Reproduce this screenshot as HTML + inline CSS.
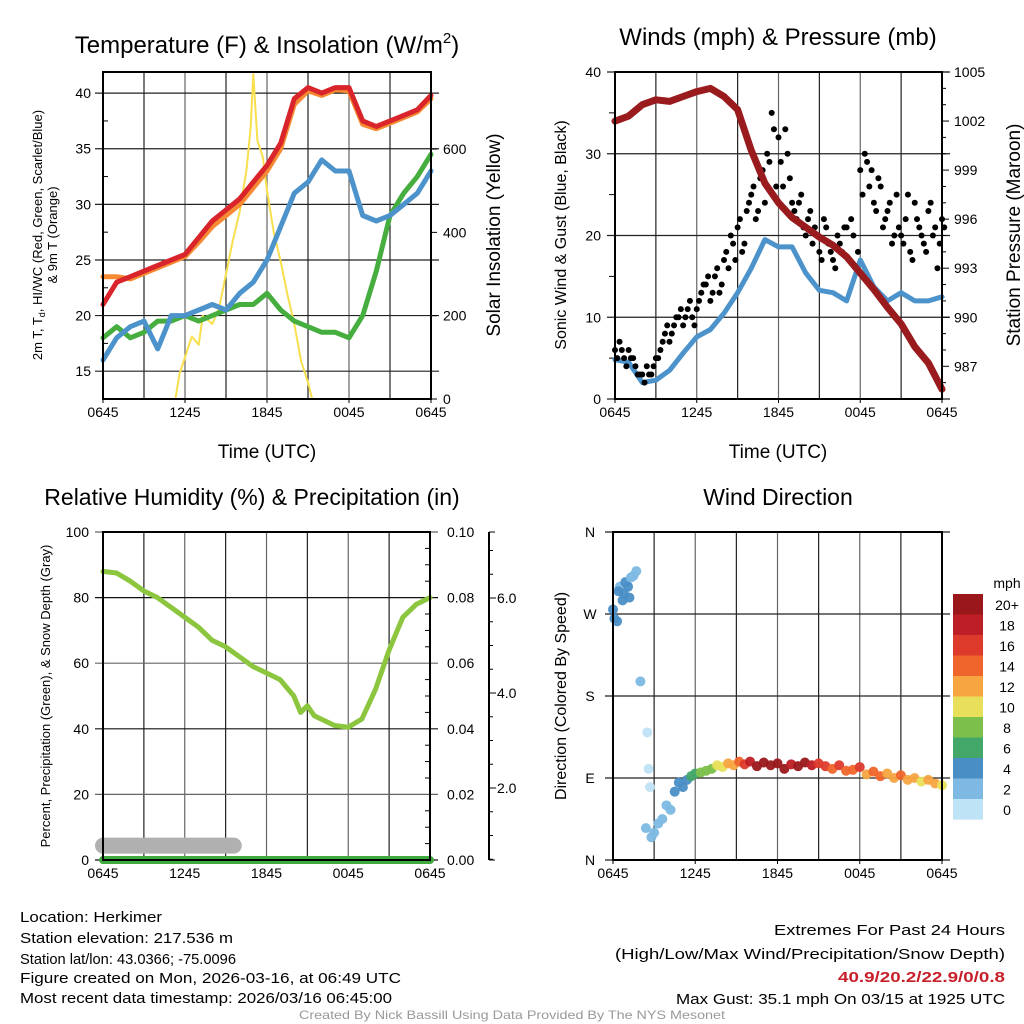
<!DOCTYPE html>
<html><head><meta charset="utf-8"><style>
html,body{margin:0;padding:0;background:#fff}
svg{display:block;font-family:"Liberation Sans",sans-serif}
</style></head><body>
<svg id="chart" width="1024" height="1024" viewBox="0 0 1024 1024" xmlns="http://www.w3.org/2000/svg">
<g id="g"></g>
<g font-size="15" fill="#000">
<text x="20" y="922" textLength="142" lengthAdjust="spacingAndGlyphs">Location: Herkimer</text>
<text x="20" y="943" textLength="213" lengthAdjust="spacingAndGlyphs">Station elevation: 217.536 m</text>
<text x="20" y="964" textLength="216" lengthAdjust="spacingAndGlyphs">Station lat/lon: 43.0366; -75.0096</text>
<text x="20" y="983" textLength="381" lengthAdjust="spacingAndGlyphs">Figure created on Mon, 2026-03-16, at 06:49 UTC</text>
<text x="20" y="1003" textLength="372" lengthAdjust="spacingAndGlyphs">Most recent data timestamp: 2026/03/16 06:45:00</text>
</g>
<g font-size="15" fill="#000" text-anchor="end">
<text x="1005" y="935" textLength="231" lengthAdjust="spacingAndGlyphs">Extremes For Past 24 Hours</text>
<text x="1005" y="959" textLength="390" lengthAdjust="spacingAndGlyphs">(High/Low/Max Wind/Precipitation/Snow Depth)</text>
<text x="1005" y="982" textLength="167" lengthAdjust="spacingAndGlyphs" fill="#c8202a" font-weight="bold">40.9/20.2/22.9/0/0.8</text>
<text x="1005" y="1004" textLength="329" lengthAdjust="spacingAndGlyphs">Max Gust: 35.1 mph On 03/15 at 1925 UTC</text>
</g>
<text x="512" y="1019" font-size="12" fill="#999" text-anchor="middle" textLength="426" lengthAdjust="spacingAndGlyphs">Created By Nick Bassill Using Data Provided By The NYS Mesonet</text>
</svg>
<script>
// ---- data (hours since 0645 UTC) ----
const hoursA = [0,1,2,3,4,5,6,7,8,9,10,11,12,13,14,15,16,17,18,19,20,21,22,23,24];
const tempRed = [21,23,23.5,24,24.5,25,25.5,27,28.5,29.5,30.5,32,33.5,35.5,39.5,40.5,40,40.5,40.5,37.5,37,37.5,38,38.5,39.8];
const tempOrange = [23.5,23.5,23.3,23.8,24.3,24.8,25.3,26.6,28,29,30,31.5,33,35,39,40.2,39.8,40.3,40.2,37.2,36.8,37.3,37.8,38.3,39.5];
const tempBlue = [16,18,19,19.5,17,20,20,20.5,21,20.5,22,23,25,28,31,32,34,33,33,29,28.5,29,30,31,33];
const tempGreen = [18,19,18,18.5,19.5,19.5,20,19.5,20,20.5,21,21,22,20.5,19.5,19,18.5,18.5,18,20,24,29,31,32.5,34.5];
const solarHours = [0,5.3,5.6,6,6.5,7,7.3,8,8.5,9,9.5,10,10.5,10.8,11,11.3,11.7,12,12.5,13,13.5,14,14.5,15,15.3,24];
const solarVals = [0,0,60,100,150,130,200,180,220,300,380,450,550,650,780,620,580,500,400,330,250,180,90,40,0,0];
const windSust = [4.8,4.5,2,2.3,3.5,5.6,7.6,8.5,10.5,13,16,19.5,18.6,18.6,15.4,13.3,13,12,17,13.7,12,13,12,12,12.5];
const pressure = [1002,1002.3,1003,1003.3,1003.2,1003.5,1003.8,1004,1003.5,1002.7,1000.2,998.2,997,996.1,995.5,994.9,994.4,993.7,992.7,991.7,990.6,989.6,988.2,987.2,985.6];
const gusts = [6,7,5,6,5, 3,3,4,3, 5,6,8,7,9,10,9,11,10, 11,13,14,12,15,13, 17,16,19,21,18,23, 25,22,27,24,29,33, 32,26,30,24,22,25, 20,23,21,18,22,19, 17,20,18,21,22,16, 28,30,26,24,27,21, 23,19,25,20,22,18, 24,21,19,23,20,16,22];
const gusts2 = [5,6,4,5,4, 3,2,3,4, 5,7,9,8,10,11,10,12,9, 12,14,15,13,16,14, 18,20,17,22,19,24, 26,23,28,30,35,26, 29,33,27,23,24,21, 22,19,20,17,21,18, 16,19,21,17,20,18, 25,29,28,23,26,22, 24,20,21,19,25,17, 22,20,18,24,21,19,21];
const rhHours = [0,1,2,3,4,5,6,7,8,9,10,11,12,13,14,14.5,15,15.5,16,17,18,19,20,21,22,23,24];
const rhVals = [88,87.5,85,82,80,77,74,71,67,65,62,59,57,55,50,45,47,44,43,41,40.5,43,52,64,74,78,80];
const snowHours = [0,2,4,6,8,9.6];
const snowDepth = [0.8,0.8,0.8,0.8,0.8,0.8];
const dirHours = [0,0.1,0.3,0.5,0.7,0.9,1.1,1.3,1.5,1.7,0.4,0.8,1.2,2,2.5,2.6,2.7,2.4,2.8,3,3.3,3.6,3.9,4.2,4.5,4.8,5.1,5.4,5.7,6,6.4,6.8,7.2,7.6,8,8.4,8.8,9.2,9.6,10,10.5,11,11.5,12,12.5,13,13.5,14,14.5,15,15.5,16,16.5,17,17.5,18,18.5,19,19.5,20,20.5,21,21.5,22,22.5,23,23.5,24];
const dirVals = [275,265,262,300,285,305,300,310,312,317,295,292,288,196,140,100,80,35,25,30,40,45,60,55,75,85,80,88,92,95,96,98,100,104,102,106,104,108,105,108,103,107,104,106,100,105,103,107,104,106,103,100,104,98,99,102,94,97,92,95,90,93,88,90,86,88,84,82];
const dirSpeed = [4,4,4,3,4,4,4,3,3,3,4,4,4,2,1,1,1,2,2,2,3,3,3,3,4,4,4,5,6,7,8,8,9,11,10,12,13,15,17,19,20,21,20,21,20,19,20,21,19,17,16,15,16,14,15,16,13,14,15,13,12,14,13,12,11,13,12,10];
const cbLabels = ["20+","18","16","14","12","10","8","6","4","2","0"];
const cbColors = ["#9a181b","#be1e26","#dd3a2c","#f0652b","#f7a541","#e8e05a","#7cc04b","#44a76a","#4a8ec6","#7db9e3","#bfe3f6"];

const NS="http://www.w3.org/2000/svg";
const G=document.getElementById('g');
function el(tag,attrs,parent){const e=document.createElementNS(NS,tag);for(const k in attrs)e.setAttribute(k,attrs[k]);(parent||G).appendChild(e);return e;}
function txt(x,y,s,size,anchor,parent,extra){const t=el('text',Object.assign({x:x,y:y,'font-size':size,'text-anchor':anchor||'middle'},extra||{}),parent);t.textContent=s;return t;}
function lin(d0,d1,r0,r1){return v=>r0+(v-d0)/(d1-d0)*(r1-r0);}
const xTicks=["0645","1245","1845","0045","0645"];

function panel(name,L,R,T,B){
  const g=el('g',{});
  
  
  const x=lin(0,24,L,R);
  for(let h=3;h<24;h+=3){const l=el('line',{x1:x(h),x2:x(h),y1:T,y2:B,stroke:(h%6==0?'#666':'#222'),'stroke-width':1.2},g);}
  for(let i=0;i<5;i++){const t=txt(x(i*6),B+18,xTicks[i],14,'middle',g);
    el('line',{x1:x(i*6),x2:x(i*6),y1:B,y2:B+4,stroke:'#000'},g);}
  return {g:g,x:x};
}
function hgrid(g,L,R,y,color){const l=el('line',{x1:L-8,x2:R+8,y1:y,y2:y,stroke:color||'#222','stroke-width':1.2},g);}
function frame(g,L,R,T,B){const r=el('rect',{x:L,y:T,width:R-L,height:B-T,fill:'none',stroke:'#000','stroke-width':2},g);}
function path(g,xs,ys,xf,yf,color,w,name){let d='';xs.forEach((h,i)=>{d+=(i?'L':'M')+xf(h).toFixed(1)+' '+yf(ys[i]).toFixed(1);});const p=el('path',{d:d,fill:'none',stroke:color,'stroke-width':w,'stroke-linejoin':'round','stroke-linecap':'round'},g);return p;}

// ---- Panel 1: Temperature ----
(function(){
  const L=103,R=431,T=72,B=399;
  const P=panel('temperature-panel',L,R,T,B);const g=P.g,x=P.x;
  const y=lin(12.5,41.9,B,T), ys=lin(0,785,B,T);
  [15,20,25,30,35,40].forEach(v=>{hgrid(g,L,R,y(v));const t=txt(L-12,y(v)+5,String(v),14,'end',g);});
  for(let v=12.5;v<42;v+=2.5){if(v%5)el('line',{x1:L,x2:L+5,y1:y(v),y2:y(v),stroke:'#000'},g);}
  [0,200,400,600].forEach(v=>{el('line',{x1:R,x2:R+6,y1:ys(v),y2:ys(v),stroke:'#000'},g);const t=txt(R+12,ys(v)+5,String(v),14,'start',g);});
  path(g,solarHours,solarVals,x,ys,'#f8df4e',2,'solar-insolation-line');
  path(g,hoursA,tempGreen,x,y,'#46ad3f',5,'dewpoint-line');
  path(g,hoursA,tempBlue,x,y,'#4d93cb',5,'windchill-line');
  path(g,hoursA,tempOrange,x,y,'#f58a33',5,'temp-9m-line');
  path(g,hoursA,tempRed,x,y,'#d8242a',5,'temp-2m-line');
  frame(g,L,R,T,B);
  const t=txt(267,53,'',24,'middle',g);t.innerHTML='Temperature (F) &amp; Insolation (W/m<tspan dy="-10" font-size="15">2</tspan><tspan dy="10">)</tspan>';
  const xl=txt(267,458,'Time (UTC)',19,'middle',g);
  const yl=el('text',{transform:'translate(42,235) rotate(-90)','font-size':13,'text-anchor':'middle'},g);yl.innerHTML='2m T, T<tspan font-size="9" dy="3">d</tspan><tspan dy="-3">, HI/WC (Red, Green, Scarlet/Blue)</tspan>';
  const yl2=el('text',{transform:'translate(57,235) rotate(-90)','font-size':13,'text-anchor':'middle'},g);yl2.textContent='& 9m T (Orange)';
  const yr=el('text',{transform:'translate(500,235) rotate(-90)','font-size':19,'text-anchor':'middle'},g);yr.textContent='Solar Insolation (Yellow)';
})();

// ---- Panel 2: Winds & Pressure ----
(function(){
  const L=615,R=942,T=72,B=399;
  const P=panel('wind-pressure-panel',L,R,T,B);const g=P.g,x=P.x;
  const y=lin(0,40,B,T), yp=lin(985,1005,B,T);
  [0,10,20,30,40].forEach(v=>{hgrid(g,L,R,y(v));const t=txt(L-14,y(v)+5,String(v),14,'end',g);});
  for(let v=5;v<40;v+=10)el('line',{x1:L-6,x2:L,y1:y(v),y2:y(v),stroke:'#000'},g);
  for(let v=986;v<=1005;v++){const maj=(v-987)%3==0;el('line',{x1:R,x2:R+(maj?7:4),y1:yp(v),y2:yp(v),stroke:'#000'},g);
    if(maj){const t=txt(R+12,yp(v)+5,String(v),14,'start',g);}}
  path(g,hoursA,windSust,x,y,'#4d93cb',5,'sustained-wind-line');
  gusts.forEach((v,i)=>{const c=el('circle',{cx:x(i/3),cy:y(v),r:3,fill:'#000'},g);});
  gusts2.forEach((v,i)=>{const c=el('circle',{cx:x(i/3+1/6),cy:y(v),r:3,fill:'#000'},g);});
  path(g,hoursA,pressure,x,yp,'#9a1b1e',7,'pressure-line');
  frame(g,L,R,T,B);
  const t=txt(778,45,'Winds (mph) & Pressure (mb)',24,'middle',g);
  const xl=txt(778,458,'Time (UTC)',19,'middle',g);
  const yl=el('text',{transform:'translate(566,235) rotate(-90)','font-size':16,'text-anchor':'middle'},g);yl.textContent='Sonic Wind & Gust (Blue, Black)';
  const yr=el('text',{transform:'translate(1020,235) rotate(-90)','font-size':19,'text-anchor':'middle'},g);yr.textContent='Station Pressure (Maroon)';
})();

// ---- Panel 3: RH & Precip ----
(function(){
  const L=103,R=430,T=532,B=860;
  const P=panel('humidity-precip-panel',L,R,T,B);const g=P.g,x=P.x;
  const y=lin(0,100,B,T), ysn=lin(0,6,883,598);
  [0,20,40,60,80,100].forEach(v=>{hgrid(g,L,R,y(v),v%40==0?'#111':'#666');const t=txt(L-14,y(v)+5,String(v),14,'end',g);
    const t2=txt(R+17,y(v)+5,(v/1000).toFixed(2),14,'start',g);});
  for(let v=5;v<100;v+=5){if(v%20)el('line',{x1:R-5,x2:R,y1:y(v),y2:y(v),stroke:'#000'},g);}
  el('line',{x1:489,x2:489,y1:T,y2:B,stroke:'#000','stroke-width':2},g);
  for(let v=0.5;v<7.2;v+=0.5){const yy=ysn(v);if(yy<T||yy>B)continue;const maj=Math.abs(v%2)<0.01;el('line',{x1:489,x2:489+(maj?7:4),y1:yy,y2:yy,stroke:'#000'},g);
    if(maj){const t=txt(497,yy+5,v.toFixed(1),14,'start',g);}}
  el('line',{x1:489,x2:495,y1:B,y2:B,stroke:'#000'},g);el('line',{x1:489,x2:495,y1:T,y2:T,stroke:'#000'},g);
  const snowY=v=>B-18*v;
  path(g,snowHours,snowDepth,x,snowY,'#b0b0b0',16,'snow-depth-band');
  path(g,rhHours,rhVals,x,y,'#8cc63f',5,'relative-humidity-line');
  path(g,[0,24],[0,0],x,y,'#3faa3f',8,'precipitation-line');
  frame(g,L,R,T,B);
  const t=txt(252,505,'Relative Humidity (%) & Precipitation (in)',23,'middle',g);
  const yl=el('text',{transform:'translate(50,696) rotate(-90)','font-size':13,'text-anchor':'middle'},g);yl.textContent='Percent, Precipitation (Green), & Snow Depth (Gray)';
})();

// ---- Panel 4: Wind Direction ----
(function(){
  const L=613,R=942,T=532,B=860;
  const P=panel('wind-direction-panel',L,R,T,B);const g=P.g,x=P.x;
  const y=lin(0,360,B,T);
  const lab=['N','E','S','W','N'];
  [0,90,180,270,360].forEach((v,i)=>{hgrid(g,L,R,y(v));const t=txt(L-23,y(v)+5,lab[i],14,'middle',g);});
  function col(s){let k=Math.floor(s/2);if(k>10)k=10;return cbColors[10-k];}
  dirHours.forEach((h,i)=>{const c=el('circle',{cx:x(h),cy:y(dirVals[i]),r:5,fill:col(dirSpeed[i]),opacity:0.95},g);});
  frame(g,L,R,T,B);
  const t=txt(778,505,'Wind Direction',23,'middle',g);
  const yl=el('text',{transform:'translate(566,696) rotate(-90)','font-size':16,'text-anchor':'middle'},g);yl.textContent='Direction (Colored By Speed)';
  const cb=el('g',{},g);
  txt(1007,588,'mph',14,'middle',cb);
  cbLabels.forEach((s,i)=>{const r=el('rect',{x:953,y:594+i*20.5,width:30,height:20.6,fill:cbColors[i]},cb);
    const t=txt(1007,610+i*20.5,s,14,'middle',cb);});
})();
</script>
</body></html>
